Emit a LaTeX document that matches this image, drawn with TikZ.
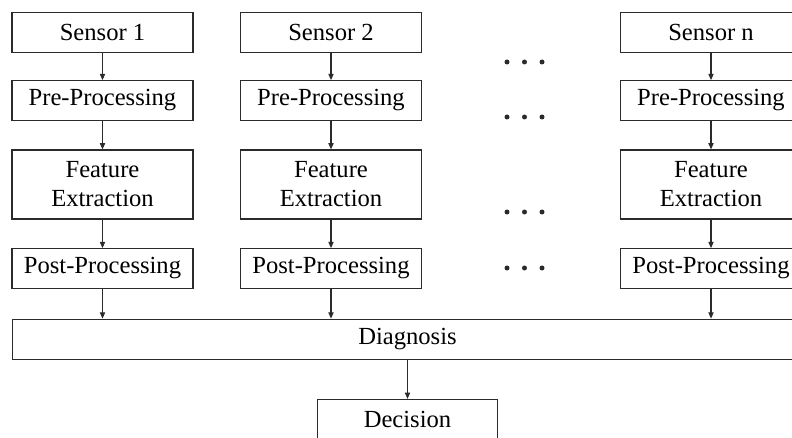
\documentclass[tikz,border=0pt]{standalone}
\usepackage{fontspec}
\setmainfont{Liberation Serif}
\usetikzlibrary{arrows.meta}
\definecolor{DGInk}{HTML}{2B2B2B}

\begin{document}
\begin{tikzpicture}[x=1cm,y=1cm,
  box/.style={draw=DGInk,line width=0.7pt,minimum width=3.62cm,minimum height=0.79cm,
    inner sep=0pt,align=center,font=\fontsize{14}{16.5}\selectfont},
  flow/.style={draw=DGInk,line width=0.6pt,-{Triangle[length=3.6pt,width=3pt]}}]
\path[use as bounding box] (0,0) rectangle (15.84,8.74);
\clip (0,0) rectangle (15.84,8.74);
% sensor row
\node[box] (s1) at (2.05,8.09) {Sensor 1};
\node[box] (s2) at (6.62,8.09) {Sensor 2};
\node[box] (sn) at (14.22,8.09) {Sensor n};
% pre-processing row
\node[box] (pre1) at (2.05,6.73) {Pre-Processing};
\node[box] (pre2) at (6.62,6.73) {Pre-Processing};
\node[box] (pren) at (14.22,6.73) {Pre-Processing};
% feature extraction row
\node[box,minimum height=1.38cm] (fe1) at (2.05,5.05) {Feature\\Extraction};
\node[box,minimum height=1.38cm] (fe2) at (6.62,5.05) {Feature\\Extraction};
\node[box,minimum height=1.38cm] (fen) at (14.22,5.05) {Feature\\Extraction};
% post-processing row
\node[box] (post1) at (2.05,3.37) {Post-Processing};
\node[box] (post2) at (6.62,3.37) {Post-Processing};
\node[box] (postn) at (14.22,3.37) {Post-Processing};
% fusion
\node[box,minimum width=15.8cm,minimum height=0.81cm] (diag) at (8.15,1.95) {Diagnosis};
\node[box,minimum width=3.6cm,minimum height=0.8cm] (dec) at (8.15,0.35) {Decision};
% arrows
\foreach \c in {1,2,n} {
  \draw[flow] (s\c) -- (pre\c);
  \draw[flow] (pre\c) -- (fe\c);
  \draw[flow] (fe\c) -- (post\c);
  \draw[flow] (post\c.south) -- (post\c.south |- diag.north);
}
\draw[flow] (diag) -- (dec);
% dots between columns
\foreach \y in {7.50,6.40,4.50,3.38}
  \foreach \x in {10.14,10.49,10.84}
    \fill[DGInk] (\x,\y) circle (0.05);
\end{tikzpicture}
\end{document}
